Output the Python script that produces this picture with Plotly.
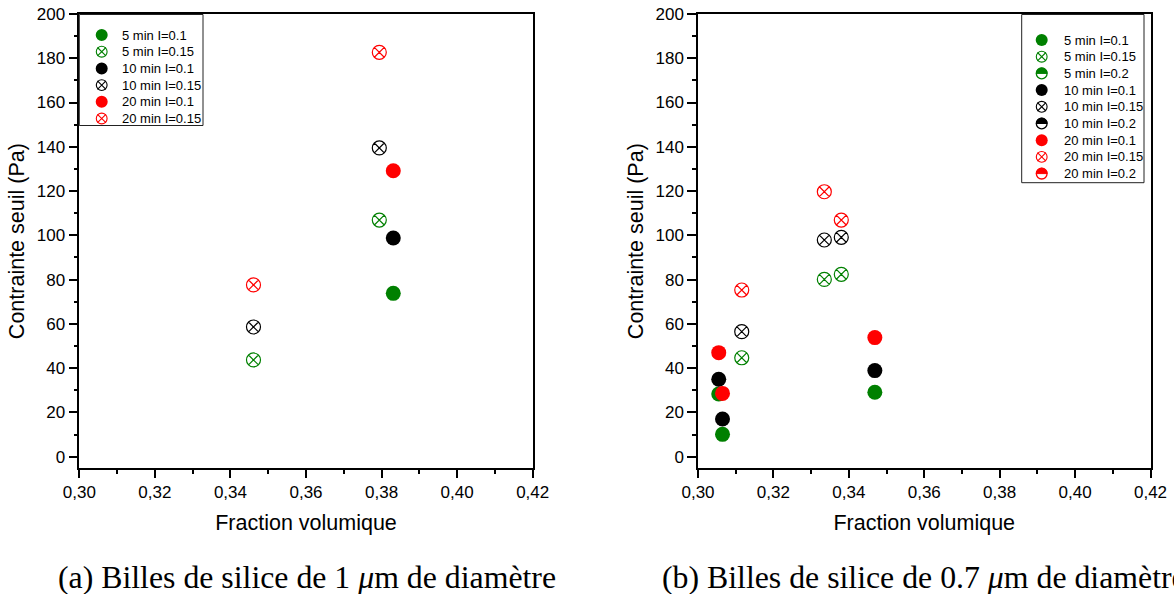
import plotly.graph_objects as go

W, H = 1174, 594
GREEN, BLACK, RED = "#008000", "#000000", "#ff0000"

# ---------------- data : panel (a) 1 um ----------------
a_x_I01 = [0.3831]
a_5min_I01 = [73.8]
a_10min_I01 = [98.8]
a_20min_I01 = [129.2]
a_x_I015 = [0.3461, 0.3794]
a_5min_I015 = [43.7, 106.9]
a_10min_I015 = [58.6, 139.5]
a_20min_I015 = [77.6, 182.7]

# ---------------- data : panel (b) 0.7 um ----------------
b_x_I01 = [0.3065, 0.3469]
b_5min_I01 = [10.1, 29.1]
b_10min_I01 = [17.0, 38.9]
b_20min_I01 = [28.6, 53.8]
b_x_I015 = [0.3116, 0.3335, 0.3380]
b_5min_I015 = [44.7, 80.1, 82.4]
b_10min_I015 = [56.5, 97.9, 99.1]
b_20min_I015 = [75.3, 119.7, 106.9]
b_x_I02 = [0.3055]
b_5min_I02 = [28.3]
b_10min_I02 = [35.0]
b_20min_I02 = [47.0]

x_title = "Fraction volumique"
y_title = "Contrainte seuil (Pa)"
caption_a = "(a) Billes de silice de 1 <i>μ</i>m de diamètre"
caption_b = "(b) Billes de silice de 0.7 <i>μ</i>m de diamètre"

legend_a = [("5 min I=0.1", GREEN, "full"), ("5 min I=0.15", GREEN, "x"),
            ("10 min I=0.1", BLACK, "full"), ("10 min I=0.15", BLACK, "x"),
            ("20 min I=0.1", RED, "full"), ("20 min I=0.15", RED, "x")]
legend_b = [("5 min I=0.1", GREEN, "full"), ("5 min I=0.15", GREEN, "x"), ("5 min I=0.2", GREEN, "half"),
            ("10 min I=0.1", BLACK, "full"), ("10 min I=0.15", BLACK, "x"), ("10 min I=0.2", BLACK, "half"),
            ("20 min I=0.1", RED, "full"), ("20 min I=0.15", RED, "x"), ("20 min I=0.2", RED, "half")]

fig = go.Figure()


def add_pts(x, y, color, kind, xa, ya, name):
    if kind == "full":
        marker = dict(symbol="circle", size=15, color=color, line=dict(width=0))
    else:
        marker = dict(symbol="circle-x-open", size=14, color=color, line=dict(width=1.2, color=color))
    fig.add_trace(go.Scatter(x=x, y=y, mode="markers", marker=marker, name=name,
                             xaxis=xa, yaxis=ya, showlegend=False, cliponaxis=False))


# panel a
add_pts(a_x_I015, a_5min_I015, GREEN, "x", "x", "y", "5 min I=0.15")
add_pts(a_x_I015, a_10min_I015, BLACK, "x", "x", "y", "10 min I=0.15")
add_pts(a_x_I015, a_20min_I015, RED, "x", "x", "y", "20 min I=0.15")
add_pts(a_x_I01, a_5min_I01, GREEN, "full", "x", "y", "5 min I=0.1")
add_pts(a_x_I01, a_10min_I01, BLACK, "full", "x", "y", "10 min I=0.1")
add_pts(a_x_I01, a_20min_I01, RED, "full", "x", "y", "20 min I=0.1")

# panel b
add_pts(b_x_I015, b_5min_I015, GREEN, "x", "x2", "y2", "5 min I=0.15")
add_pts(b_x_I015, b_10min_I015, BLACK, "x", "x2", "y2", "10 min I=0.15")
add_pts(b_x_I015, b_20min_I015, RED, "x", "x2", "y2", "20 min I=0.15")
add_pts(b_x_I02, b_5min_I02, GREEN, "full", "x2", "y2", "5 min I=0.2")
add_pts(b_x_I02, b_10min_I02, BLACK, "full", "x2", "y2", "10 min I=0.2")
add_pts(b_x_I01, b_5min_I01, GREEN, "full", "x2", "y2", "5 min I=0.1")
add_pts(b_x_I01, b_10min_I01, BLACK, "full", "x2", "y2", "10 min I=0.1")
add_pts(b_x_I01, b_20min_I01, RED, "full", "x2", "y2", "20 min I=0.1")
add_pts(b_x_I02, b_20min_I02, RED, "full", "x2", "y2", "20 min I=0.2")

# ---------------- axes ----------------
tickfont = dict(family="Liberation Sans, Arial, sans-serif", size=17, color="black")
titlefont = dict(family="Liberation Sans, Arial, sans-serif", size=21.5, color="black")


def xax(domain):
    return dict(domain=domain, range=[0.30, 0.42], tick0=0.30, dtick=0.02, tickformat=".2f",
                ticks="outside", ticklen=8, tickwidth=1.5, tickcolor="black",
                minor=dict(dtick=0.01, ticks="outside", ticklen=4, tickwidth=1.5, tickcolor="black", showgrid=False),
                showline=True, linecolor="black", linewidth=1.5, mirror=True,
                showgrid=False, zeroline=False, tickfont=tickfont, automargin=False,
                title=dict(text=x_title, font=titlefont, standoff=13))


def yax(domain):
    return dict(domain=domain, range=[-5.24, 200], tick0=0, dtick=20,
                ticks="outside", ticklen=9, tickwidth=1.5, tickcolor="black",
                minor=dict(dtick=10, ticks="outside", ticklen=4, tickwidth=1.5, tickcolor="black", showgrid=False),
                showline=True, linecolor="black", linewidth=1.5, mirror=True,
                showgrid=False, zeroline=False, tickfont=tickfont, automargin=False,
                title=dict(text=y_title, font=titlefont, standoff=6))


ydom = [1 - 468.3 / H, 1 - 14 / H]
fig.update_layout(
    xaxis=dict(xax([79.3 / W, 532.7 / W]), anchor="y"),
    yaxis=dict(yax(ydom), anchor="x"),
    xaxis2=dict(xax([698 / W, 1150.5 / W]), anchor="y2"),
    yaxis2=dict(yax(ydom), anchor="x2"),
)

# ---------------- custom legends ----------------
shapes = []
annotations = []
K = 0.5523


def legend_block(items, box, mx, tx, y0, step):
    x0b, y0b, x1b, y1b = box
    shapes.append(dict(type="rect", xref="paper", yref="paper", x0=x0b / W, x1=x1b / W,
                       y0=1 - y1b / H, y1=1 - y0b / H, line=dict(color="#222", width=1),
                       fillcolor="white", layer="above"))
    r = 6
    for i, (label, color, kind) in enumerate(items):
        cy = y0 + i * step
        base = dict(xref="paper", yref="paper", xsizemode="pixel", ysizemode="pixel",
                    xanchor=mx / W, yanchor=1 - cy / H, layer="above")
        if kind == "full":
            shapes.append(dict(base, type="circle", x0=-r, x1=r, y0=-r, y1=r,
                               fillcolor=color, line=dict(color=color, width=0)))
        elif kind == "x":
            rr = r - 0.6
            shapes.append(dict(base, type="circle", x0=-rr, x1=rr, y0=-rr, y1=rr,
                               fillcolor="rgba(0,0,0,0)", line=dict(color=color, width=1.1)))
            a = rr * 0.78
            shapes.append(dict(base, type="path", path=f"M{-a},{-a} L{a},{a} M{-a},{a} L{a},{-a}",
                               line=dict(color=color, width=1.1)))
        else:
            rr = r - 0.6
            shapes.append(dict(base, type="circle", x0=-rr, x1=rr, y0=-rr, y1=rr,
                               fillcolor="white", line=dict(color=color, width=1.3)))
            p = (f"M{-rr},0 C{-rr},{K*rr} {-K*rr},{rr} 0,{rr} "
                 f"C{K*rr},{rr} {rr},{K*rr} {rr},0 Z")
            shapes.append(dict(base, type="path", path=p, fillcolor=color, line=dict(color=color, width=1)))
        annotations.append(dict(xref="paper", yref="paper", x=tx / W, y=1 - cy / H,
                                xanchor="left", yanchor="middle", showarrow=False, text=label,
                                font=dict(family="Liberation Sans, Arial, sans-serif", size=13, color="black")))


legend_block(legend_a, (79.3, 14.5, 203, 125.5), 101.7, 120, 35, 16.7)
legend_block(legend_b, (1021.7, 14.5, 1144, 182.7), 1041.7, 1061.7, 40, 16.7)

capfont = dict(family="Liberation Serif, Times New Roman, serif", size=31.8, color="black")
annotations.append(dict(xref="paper", yref="paper", x=306.5 / W, y=1 - 577 / H, xanchor="center",
                        yanchor="middle", showarrow=False, text=caption_a, font=capfont))
annotations.append(dict(xref="paper", yref="paper", x=924 / W, y=1 - 577 / H, xanchor="center",
                        yanchor="middle", showarrow=False, text=caption_b, font=capfont))

fig.update_layout(width=W, height=H, margin=dict(l=0, r=0, t=0, b=0, pad=0),
                  paper_bgcolor="white", plot_bgcolor="white", separators=", ",
                  showlegend=False, shapes=shapes, annotations=annotations)

fig.write_html("out.html", config={"displayModeBar": False},
               post_script="document.body.style.margin='0';document.body.style.overflow='hidden';")
